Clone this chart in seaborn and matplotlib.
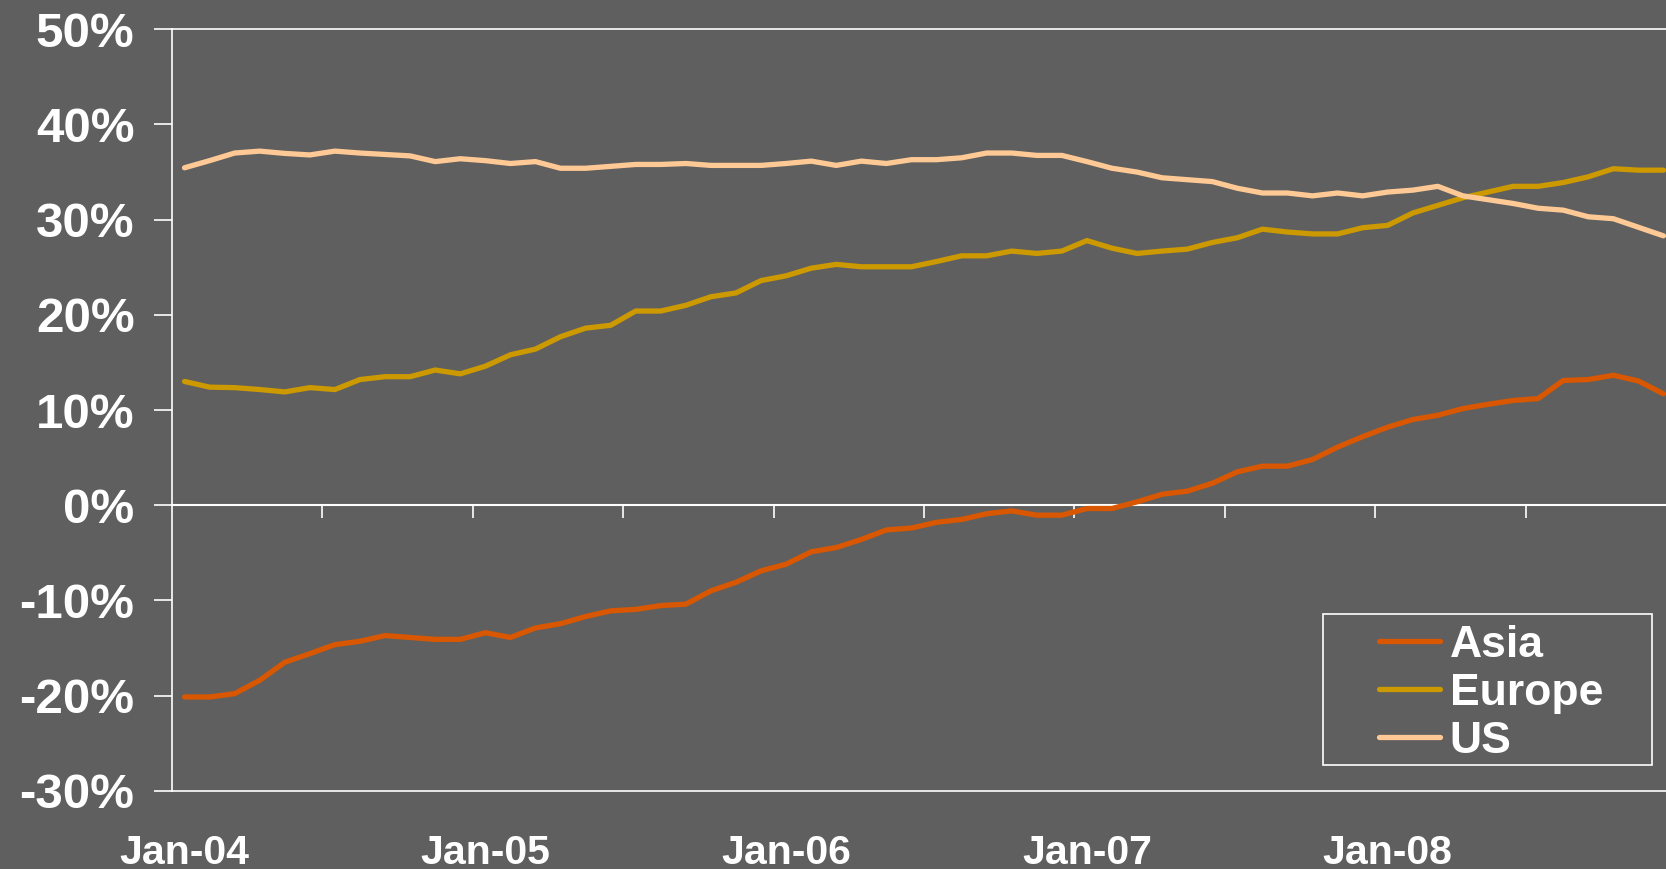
"""Regional share chart, Jan-04 to Dec-08, grey Excel-style look."""

import matplotlib
matplotlib.use("Agg")
import matplotlib.pyplot as plt
import matplotlib.ticker as mticker
from matplotlib.patches import Rectangle
import numpy as np
import pandas as pd
import seaborn as sns

# ── data (monthly, % values) ─────────────────────────────────────────────────
months = pd.date_range("2004-01-01", "2008-12-01", freq="MS")
month_labels = [m.strftime("%b-%y") for m in months]

asia = [-20.15, -20.15, -19.8, -18.4, -16.5, -15.6, -14.65, -14.3, -13.7, -13.9,
        -14.1, -14.1, -13.4, -13.9, -12.9, -12.45, -11.7, -11.1, -10.95, -10.55,
        -10.4, -9.0, -8.1, -6.9, -6.2, -4.9, -4.45, -3.6, -2.6, -2.4,
        -1.8, -1.5, -0.9, -0.6, -1.05, -1.05, -0.35, -0.35, 0.35, 1.15,
        1.47, 2.3, 3.5, 4.1, 4.1, 4.8, 6.1, 7.2, 8.2, 9.0,
        9.45, 10.15, 10.6, 11.0, 11.2, 13.1, 13.2, 13.65, 13.05, 11.7]

europe = [13.0, 12.4, 12.35, 12.15, 11.9, 12.35, 12.15, 13.2, 13.5, 13.5,
          14.2, 13.8, 14.6, 15.8, 16.4, 17.7, 18.6, 18.9, 20.4, 20.4,
          21.0, 21.9, 22.3, 23.6, 24.1, 24.9, 25.3, 25.05, 25.05, 25.05,
          25.6, 26.2, 26.2, 26.7, 26.45, 26.7, 27.8, 27.0, 26.45, 26.7,
          26.9, 27.6, 28.1, 29.0, 28.7, 28.5, 28.5, 29.15, 29.4, 30.7,
          31.5, 32.3, 32.9, 33.5, 33.5, 33.9, 34.5, 35.35, 35.2, 35.2]

us = [35.45, 36.2, 37.0, 37.2, 36.96, 36.8, 37.2, 37.0, 36.85, 36.7,
      36.1, 36.4, 36.2, 35.9, 36.1, 35.4, 35.4, 35.6, 35.8, 35.8,
      35.9, 35.7, 35.7, 35.7, 35.9, 36.15, 35.7, 36.15, 35.9, 36.3,
      36.3, 36.5, 37.0, 37.0, 36.75, 36.75, 36.1, 35.4, 35.0, 34.4,
      34.2, 34.0, 33.3, 32.8, 32.8, 32.5, 32.8, 32.5, 32.9, 33.1,
      33.5, 32.5, 32.1, 31.7, 31.2, 31.0, 30.3, 30.1, 29.2, 28.3]

regions = ["Asia", "Europe", "US"]
COLORS = {"Asia": "#D95700", "Europe": "#CC9900", "US": "#FFC995"}

y_ticks = [-30, -20, -10, 0, 10, 20, 30, 40, 50]
label_every = 12     # one label per year
tick_every = 6       # tick marks on the zero line every half year

df = pd.DataFrame({
    "idx": np.tile(np.arange(len(months)), 3),
    "value": asia + europe + us,
    "region": np.repeat(regions, len(months)),
})

# ── canvas ────────────────────────────────────────────────────────────────────
BG = "#5F5F5F"
FG = "white"
LW = 3.8
sns.set_style("white", rc={"axes.facecolor": BG, "figure.facecolor": BG})
plt.rcParams["font.family"] = ["Liberation Sans", "DejaVu Sans"]
plt.rcParams["axes.unicode_minus"] = False

fig = plt.figure(figsize=(16.66, 8.69), dpi=100)
ax = fig.add_axes([0.10324, 0.0901, 0.90276, 0.87618])

sns.lineplot(data=df, x="idx", y="value", hue="region", hue_order=regions,
             palette=COLORS, linewidth=LW, ax=ax, legend=False,
             solid_capstyle="round", solid_joinstyle="round")

n = len(months)
ax.set_xlim(-0.5, n - 0.5)
ax.set_ylim(y_ticks[0], y_ticks[-1])
ax.set_xlabel("")
ax.set_ylabel("")

for spine in ax.spines.values():
    spine.set_edgecolor(FG)
    spine.set_linewidth(1.2)

# y axis
ax.set_yticks(y_ticks)
ax.yaxis.set_major_formatter(mticker.FuncFormatter(lambda v, _: f"{v:.0f}%"))
ax.tick_params(axis="y", direction="out", length=13, width=1.2, color=FG,
               pad=14, labelsize=35.5, labelcolor=FG, left=True)

# x labels along the bottom edge
ax.set_xticks(range(0, n, label_every))
ax.set_xticklabels(month_labels[::label_every])
ax.tick_params(axis="x", length=0, pad=31, labelsize=29.5, labelcolor=FG)
for lab in ax.get_xticklabels() + ax.get_yticklabels():
    lab.set_fontweight("bold")

# zero line with half-year tick marks
zero_frac = (0 - y_ticks[0]) / (y_ticks[-1] - y_ticks[0])
zax = ax.secondary_xaxis(zero_frac)
zax.spines["bottom"].set_edgecolor(FG)
zax.spines["bottom"].set_linewidth(1.5)
zax.set_xticks(np.arange(-0.5 + tick_every, n - 0.5, tick_every))
zax.set_xticklabels([])
zax.tick_params(axis="x", direction="out", length=9.5, width=1.2, color=FG)

# ── legend ────────────────────────────────────────────────────────────────────
handles = [plt.Line2D([], [], color=COLORS[r], linewidth=LW,
                      solid_capstyle="round") for r in regions]
leg = ax.legend(handles, regions, loc="center left",
                bbox_to_anchor=(0.8025, 0.128), frameon=False,
                borderpad=0, borderaxespad=0, handlelength=1.37,
                handletextpad=0.22, labelspacing=0.16,
                prop={"size": 32, "weight": "bold"})
for t in leg.get_texts():
    t.set_color(FG)
ax.add_patch(Rectangle((0.7653, 0.0338), 0.2188, 0.1983, transform=ax.transAxes,
                       fill=False, edgecolor=FG, linewidth=1.2, zorder=5))

fig.savefig("out.png", dpi=100, facecolor=fig.get_facecolor())
